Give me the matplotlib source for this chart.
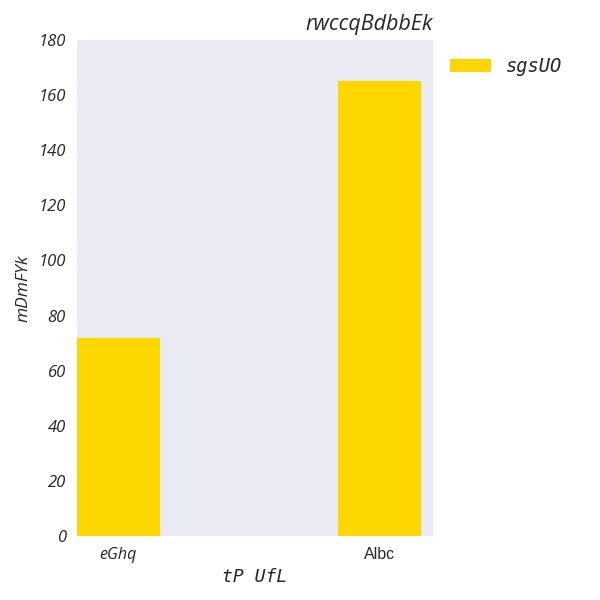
import matplotlib
matplotlib.use('Agg')
from matplotlib import pyplot as plt
import numpy as np

categories=['eGhq','Albc']
values=[72,165]
series_name='sgsUO'

fig=plt.figure(figsize=[6,6],dpi=100)
ax=fig.add_axes([0.128,0.107,0.594,0.826])
ax.set_facecolor('#EAEAF2')
for spine in ax.spines.values():
    spine.set_visible(False)

x=np.arange(len(categories))
ax.bar(x,values,width=0.32,color='#FFD700',label=series_name)
ax.set_xlim(-0.159,1.205)
ax.set_ylim(0,180)
ax.set_yticks(np.arange(0,181,20))
ax.tick_params(length=0,pad=8,colors='#262626')
ax.set_xticks(x)
ax.set_xticklabels(categories)
xl=ax.get_xticklabels()
xl[0].set_family('Open Sans')
xl[0].set_style('italic')
xl[1].set_family('Liberation Sans')
for t in xl:
    t.set_fontsize(11.5)
for t in ax.get_yticklabels():
    t.set_family('Open Sans')
    t.set_style('italic')
    t.set_fontsize(12)

# title sits right-aligned over the axes
ax.set_title('rwccqBdbbEk',loc='right',family='Open Sans',style='italic',
             fontsize=15.5,color='#262626',pad=7)
ax.set_xlabel('tP UfL',family='DejaVu Sans Mono',style='italic',fontsize=13,
              color='#262626',labelpad=4)
ax.set_ylabel('mDmFYk',family='Open Sans',style='italic',fontsize=12.5,
              color='#262626',labelpad=5)
leg=ax.legend(loc='upper left',bbox_to_anchor=(1.0,1.0),frameon=False,
              handlelength=2.2,
              prop={'family':'DejaVu Sans Mono','style':'italic','size':13.5})
for t in leg.get_texts():
    t.set_color('#262626')

fig.savefig('out.png')
